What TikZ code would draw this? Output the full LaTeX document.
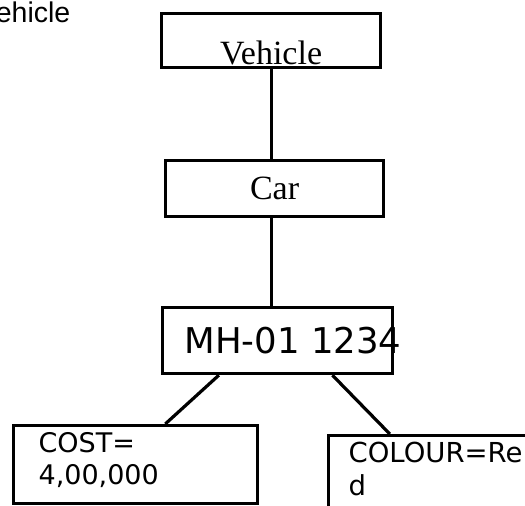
\documentclass[tikz,border=0pt]{standalone}
\usepackage{fontspec}
\setmainfont{Liberation Serif}
\newfontfamily\dejavu{DejaVu Sans}
\newfontfamily\arialfont{Liberation Sans}
\usetikzlibrary{calc}

\begin{document}
\begin{tikzpicture}[x=1pt,y=-1pt,
    box/.style={draw,line width=3.2pt,inner sep=0pt,anchor=north west},
    link/.style={line width=3.2pt}]
  \useasboundingbox (0,0) rectangle (525,506);
  % title, cut off at the left edge
  \node[anchor=base west,inner sep=0pt,font=\arialfont\fontsize{28.5}{32}\selectfont]
    (title) at (-21.8,22) {Vehicle};
  % class boxes
  \node[box,minimum width=219pt,minimum height=54pt,text height=47pt,text depth=0pt,
    font=\fontsize{34}{40}\selectfont] (veh) at (160,12) {Vehicle};
  \node[box,minimum width=218pt,minimum height=56pt,
    font=\fontsize{34}{40}\selectfont] (car) at (164,159) {Car};
  \node[box,minimum width=230pt,minimum height=66pt,inner xsep=22pt,
    font=\dejavu\fontsize{35.5}{40}\selectfont] (mh) at (161,306)
    {\makebox[186pt][l]{MH-01 1234}};
  % attribute boxes
  \node[box,minimum width=244pt,minimum height=78pt,inner xsep=25pt,
    text width=194pt,align=left,text height=27pt,text depth=51pt,
    font=\dejavu\fontsize{27}{32}\selectfont] (cost) at (12,424)
    {COST=\\4,00,000};
  \node[box,minimum width=233pt,minimum height=100pt,inner xsep=20pt,
    text width=193pt,align=left,text height=27pt,text depth=73pt,
    font=\dejavu\fontsize{27.5}{33}\selectfont] (col) at (327,434)
    {COLOUR=Re\\d};
  % links
  \draw[link] (veh.south) -- (veh.south |- car.north);
  \draw[link] (veh.south |- car.south) -- (veh.south |- mh.north);
  \draw[link] ($(mh.south west)!0.248!(mh.south east)$) -- ($(cost.north west)!0.62!(cost.north east)$);
  \draw[link] ($(mh.south west)!0.735!(mh.south east)$) -- ($(col.north west)!0.266!(col.north east)$);
\end{tikzpicture}
\end{document}
